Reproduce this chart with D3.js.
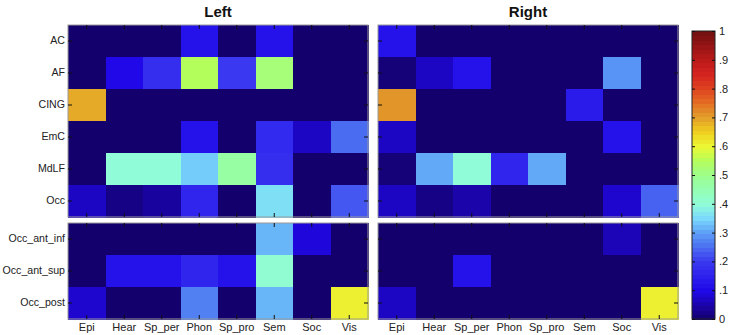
<!DOCTYPE html>
<html><head><meta charset="utf-8">
<script src="https://cdn.jsdelivr.net/npm/d3@7"></script>
<style>body{margin:0;background:#fff;} svg{display:block;font-family:"Liberation Sans",Arial,sans-serif;}</style>
</head><body><svg id="chart" width="730" height="335"></svg>
<script>
const rows = ["AC","AF","CING","EmC","MdLF","Occ","Occ_ant_inf","Occ_ant_sup","Occ_post"];
const upperRows = rows.slice(0,6);
const lowerRows = rows.slice(6);
const cols = ["Epi","Hear","Sp_per","Phon","Sp_pro","Sem","Soc","Vis"];
const panelTitles = ["Left","Right"];
// values per row (rows order), per column (cols order)
const leftValues = [
  [0.00,0.00,0.00,0.12,0.00,0.12,0.00,0.00],
  [0.00,0.10,0.18,0.55,0.20,0.52,0.00,0.00],
  [0.69,0.00,0.00,0.00,0.00,0.00,0.00,0.00],
  [0.00,0.00,0.00,0.12,0.00,0.17,0.07,0.25],
  [0.00,0.40,0.40,0.34,0.47,0.18,0.00,0.00],
  [0.07,0.02,0.04,0.16,0.00,0.36,0.00,0.23],
  [0.00,0.00,0.00,0.00,0.00,0.32,0.09,0.00],
  [0.00,0.12,0.12,0.16,0.12,0.41,0.00,0.00],
  [0.08,0.00,0.00,0.27,0.00,0.32,0.00,0.61]
];
const rightValues = [
  [0.12,0.00,0.00,0.00,0.00,0.00,0.00,0.00],
  [0.01,0.07,0.12,0.00,0.00,0.00,0.29,0.00],
  [0.71,0.00,0.00,0.00,0.00,0.14,0.00,0.00],
  [0.07,0.00,0.00,0.00,0.00,0.00,0.12,0.00],
  [0.01,0.31,0.40,0.16,0.31,0.00,0.00,0.00],
  [0.07,0.02,0.05,0.00,0.00,0.00,0.08,0.24],
  [0.00,0.00,0.00,0.00,0.00,0.00,0.06,0.00],
  [0.00,0.00,0.12,0.00,0.00,0.00,0.00,0.00],
  [0.07,0.00,0.00,0.00,0.00,0.00,0.00,0.61]
];
const colorbarTicks = [0,0.1,0.2,0.3,0.4,0.5,0.6,0.7,0.8,0.9,1];
const colorbarLabels = ["0",".1",".2",".3",".4",".5",".6",".7",".8",".9","1"];

// jet-like colormap as rendered in the reference
const cmapStops = [0,0.1,0.2,0.25,0.3,0.35,0.4,0.45,0.5,0.55,0.6,0.65,0.7,0.75,0.8,0.85,0.9,1];
const cmapColors = ["#14006c","#2008e8","#3a38f0","#4a6cf0","#5c9ef6","#7ad8fc","#90fcd8","#94feb4","#9cfe8c","#b4fe5c","#ecf834","#f0d020","#e2a02a","#e47024","#de4420","#d42420","#bc1a1a","#701010"];
const color = d3.scaleLinear().domain(cmapStops).range(cmapColors).clamp(true);

const svg = d3.select("#chart");
const panelsX = [[68,368],[378,678]];
const upperY = [25,217], lowerY = [223,319];
const tick = 4;
const fontSize = "11px";

panelsX.forEach((px, pi) => {
  const vals = pi === 0 ? leftValues : rightValues;
  const x = d3.scaleBand().domain(cols).range(px);
  const sub = [[upperRows, upperY],[lowerRows, lowerY]];
  sub.forEach(([rws, ry], si) => {
    const y = d3.scaleBand().domain(rws).range(ry);
    const g = svg.append("g");
    const cells = [];
    rws.forEach(r => cols.forEach((c, ci) => cells.push({r, c, v: vals[rows.indexOf(r)][ci]})));
    g.selectAll("rect.cell").data(cells).join("rect")
      .attr("class","cell")
      .attr("x", d => x(d.c)).attr("y", d => y(d.r))
      .attr("width", x.bandwidth()+0.5).attr("height", y.bandwidth()+0.5)
      .attr("shape-rendering","crispEdges")
      .attr("fill", d => color(d.v));
    // border
    g.append("rect").attr("x", px[0]).attr("y", ry[0])
      .attr("width", px[1]-px[0]).attr("height", ry[1]-ry[0])
      .attr("fill","none").attr("stroke","#9a9a9a").attr("stroke-width",1);
    // axes with inward ticks
    const left = d3.axisLeft(y).tickSize(-tick).tickPadding(3);
    if (pi !== 0) left.tickFormat("");
    const gl = g.append("g").attr("transform",`translate(${px[0]},0)`).call(left);
    const gr = g.append("g").attr("transform",`translate(${px[1]},0)`).call(d3.axisRight(y).tickSize(-tick).tickFormat(""));
    const gt = g.append("g").attr("transform",`translate(0,${ry[0]})`).call(d3.axisTop(x).tickSize(-tick).tickFormat(""));
    const bottom = d3.axisBottom(x).tickSize(-tick).tickPadding(4);
    if (si === 0) bottom.tickFormat("");
    const gb = g.append("g").attr("transform",`translate(0,${ry[1]})`).call(bottom);
    [gl,gr,gt,gb].forEach(a => {
      a.select(".domain").remove();
      a.selectAll(".tick line").attr("stroke","#111");
      a.selectAll("text").attr("fill","#222").style("font-size",fontSize).style("font-family","'Liberation Sans',Arial,sans-serif");
    });
    gl.selectAll("text").style("font-size","10.6px");
  });
  svg.append("text").attr("x", (px[0]+px[1])/2).attr("y", 17)
    .attr("text-anchor","middle").style("font-weight","bold").style("font-size","15px")
    .attr("fill","#111").text(panelTitles[pi]);
});

// colorbar
const cbX = 692, cbW = 23;
const cy = d3.scaleLinear().domain([0,1]).range([319,31]);
const nSteps = 64;
const steps = d3.range(nSteps).map(i => i/nSteps);
svg.append("g").selectAll("rect").data(steps).join("rect")
  .attr("x", cbX).attr("width", cbW)
  .attr("y", d => cy(d + 1/nSteps)).attr("height", d => cy(d) - cy(d + 1/nSteps) + 0.5)
  .attr("shape-rendering","crispEdges")
  .attr("fill", d => color(d + 0.5/nSteps));
svg.append("rect").attr("x", cbX).attr("y", 31).attr("width", cbW).attr("height", 288)
  .attr("fill","none").attr("stroke","#222").attr("stroke-width",1);
const cbAxis = d3.axisRight(cy).tickValues(colorbarTicks).tickSize(-3).tickPadding(4)
  .tickFormat((d,i) => colorbarLabels[i]);
const ga = svg.append("g").attr("transform",`translate(${cbX+cbW},0)`).call(cbAxis);
ga.select(".domain").remove();
ga.selectAll(".tick line").attr("stroke","#111");
ga.selectAll("text").attr("fill","#222").style("font-size",fontSize).style("font-family","'Liberation Sans',Arial,sans-serif");
const ga2 = svg.append("g").attr("transform",`translate(${cbX},0)`).call(d3.axisLeft(cy).tickValues(colorbarTicks).tickSize(-3).tickFormat(""));
ga2.select(".domain").remove();
ga2.selectAll(".tick line").attr("stroke","#111");
</script></body></html>
